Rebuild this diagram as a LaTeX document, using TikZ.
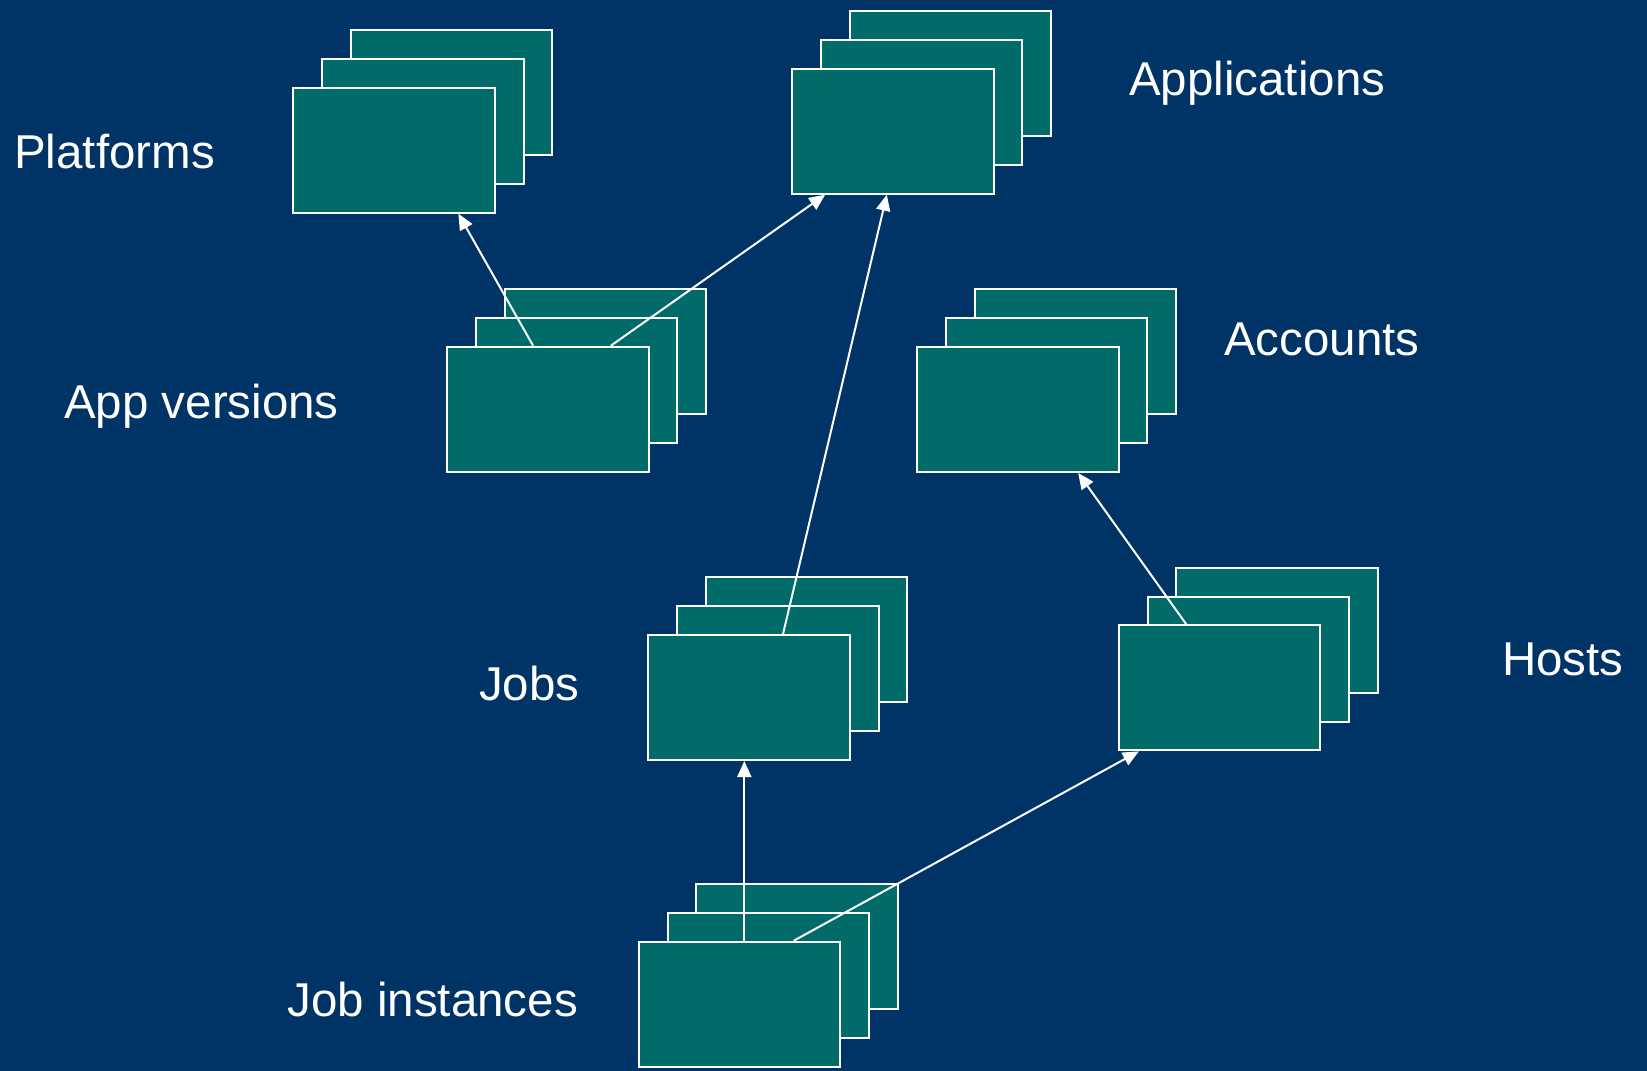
\documentclass[tikz,border=0pt]{standalone}
\usepackage{fontspec}
\setmainfont{Liberation Sans}
\usetikzlibrary{arrows.meta,calc}
\definecolor{bg}{RGB}{0,51,102}
\definecolor{boxfill}{RGB}{0,107,104}
\newcommand\cardstack[3]{%
  \node[card] (#1c) at (#2+57.6,#3-57.6) {};
  \node[card] (#1b) at (#2+28.8,#3-28.8) {};
  \node[card] (#1) at (#2,#3) {};
}
\begin{document}
\begin{tikzpicture}[x=1pt,y=-1pt,
  card/.style={rectangle,draw=white,fill=boxfill,line width=2pt,
    minimum width=201.5pt,minimum height=125pt,inner sep=0pt,anchor=north west},
  lbl/.style={text=white,anchor=base west,inner sep=0pt,
    font=\fontsize{47.5}{57}\selectfont},
  conn/.style={draw=white,line width=2pt,-{Triangle[length=16pt,width=14pt]}}]
\fill[bg] (0,0) rectangle (1647,1071);
\useasboundingbox (0,0) rectangle (1647,1071);
\cardstack{plat}{292.3}{86.7}
\cardstack{apps}{791}{67.7}
\cardstack{appv}{446}{345.7}
\cardstack{acct}{916}{346}
\cardstack{jobs}{647.3}{634}
\cardstack{host}{1117.7}{624.3}
\cardstack{ji}{637.7}{940.7}
\node[lbl] (lplat) at (14,168.3) {Platforms};
\node[lbl] (lappv) at (64,418.3) {App versions};
\node[lbl] (lapps) at (1129,95) {Applications};
\node[lbl] (lacct) at (1224,355) {Accounts};
\node[lbl] (ljobs) at (479,700) {Jobs};
\node[lbl] (lji) at (287.3,1016.7) {Job instances};
\node[lbl] (lhost) at (1502,675) {Hosts};
\draw[conn] ($(appv.north west)!0.428!(appv.north east)$) -- ($(plat.south west)!0.816!(plat.south east)$);
\draw[conn] ($(appv.north west)!0.81!(appv.north east)$) -- ($(apps.south west)!0.168!(apps.south east)$);
\draw[conn] ($(jobs.north west)!0.667!(jobs.north east)$) -- ($(apps.south west)!0.471!(apps.south east)$);
\coordinate (jiup) at ($(ji.north west)!0.524!(ji.north east)$);
\draw[conn] (jiup) -- (jiup |- jobs.south);
\draw[conn] ($(ji.north west)!0.767!(ji.north east)$) -- ($(host.south west)!0.104!(host.south east)$);
\draw[conn] ($(host.north west)!0.337!(host.north east)$) -- ($(acct.south west)!0.797!(acct.south east)$);
\end{tikzpicture}
\end{document}
